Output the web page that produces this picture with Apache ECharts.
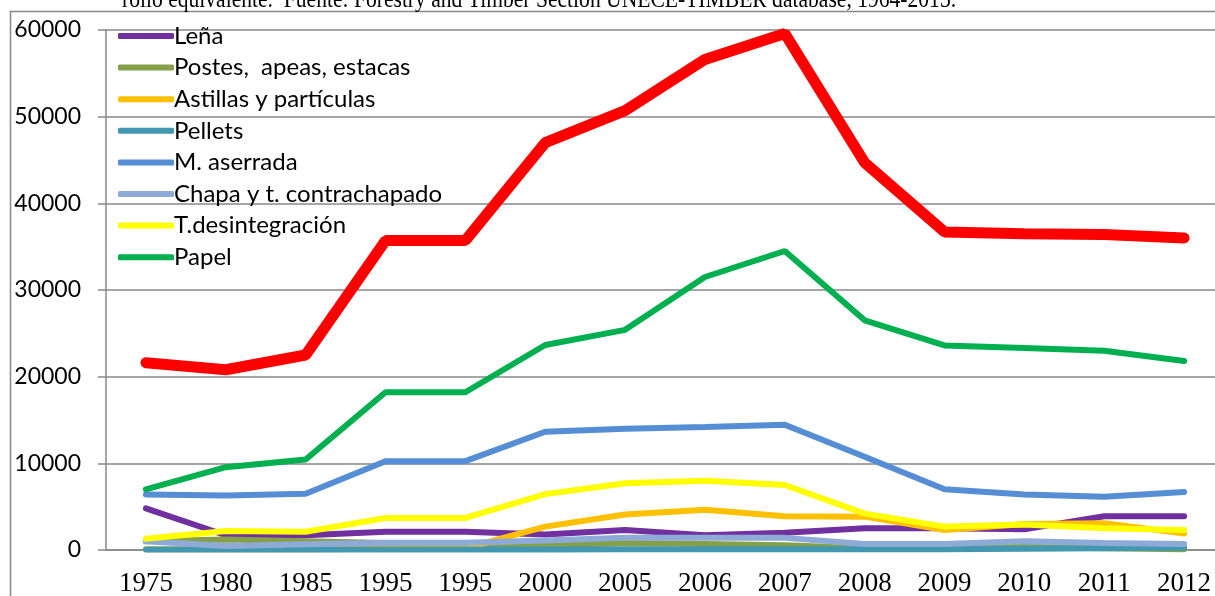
<!DOCTYPE html>
<html>
<head>
<meta charset="utf-8">
<script src="https://cdn.jsdelivr.net/npm/echarts@6/dist/echarts.min.js"></script>
<style>
  html, body { margin: 0; padding: 0; background: #fff; }
  #main { width: 1215px; height: 596px; }
</style>
</head>
<body>
<div id="main"></div>
<script>
// categorías (el eje repite 1995 como en el original)
const years = ['1975', '1980', '1985', '1995', '1995', '2000', '2005', '2006', '2007', '2008', '2009', '2010', '2011', '2012']
const yTicks = [0, 10000, 20000, 30000, 40000, 50000, 60000]

// valores
const lena = [4800, 1700, 1700, 2100, 2100, 1800, 2300, 1700, 2000, 2500, 2500, 2400, 3900, 3900]
const postes = [1000, 1200, 1000, 800, 700, 500, 800, 700, 550, 200, 200, 350, 200, 100]
const astillas = [100, 100, 100, 150, 200, 2700, 4100, 4650, 3900, 3850, 2300, 3000, 3100, 1900]
const pellets = [50, 50, 50, 50, 50, 50, 100, 100, 100, 100, 100, 150, 200, 250]
const aserrada = [6400, 6300, 6500, 10250, 10250, 13650, 14000, 14200, 14450, 10750, 7000, 6400, 6150, 6700]
const chapa = [1000, 450, 650, 850, 850, 1100, 1400, 1400, 1400, 700, 700, 1000, 800, 700]
const desint = [1300, 2200, 2100, 3700, 3700, 6450, 7700, 8000, 7500, 4200, 2700, 2950, 2500, 2300]
const papel = [7000, 9550, 10450, 18200, 18200, 23650, 25400, 31500, 34500, 26500, 23600, 23300, 23000, 21800]
const total = [21600, 20800, 22500, 35700, 35700, 47000, 50700, 56600, 59600, 44700, 36700, 36500, 36400, 36000]

const names = ['Leña', 'Postes,  apeas, estacas', 'Astillas y partículas', 'Pellets', 'M. aserrada', 'Chapa y t. contrachapado', 'T.desintegración', 'Papel']
const colors = ['#7030a0', '#86a04a', '#ffc000', '#4298b0', '#558ed5', '#8eaad6', '#ffff00', '#00b050']
const values = [lena, postes, astillas, pellets, aserrada, chapa, desint, papel]

const chart = echarts.init(document.getElementById('main'))

const series = values.map((d, i) => ({
  name: names[i],
  type: 'line',
  data: d,
  showSymbol: false,
  symbol: 'none',
  color: colors[i],
  lineStyle: { width: 6, color: colors[i], cap: 'round' },
  animation: false
}))
series.push({
  name: 'Total',
  type: 'line',
  data: total,
  symbol: 'none',
  color: '#ff0000',
  lineStyle: { width: 11, color: '#ff0000', cap: 'round' },
  animation: false
})

const option = {
  animation: false,
  grid: { left: 106, top: 30, bottom: 46, right: -9, outerBoundsMode: 'none' },
  legend: {
    data: names.map(n => ({ name: n, icon: 'roundRect' })),
    orient: 'vertical',
    left: 113,
    top: 19,
    itemWidth: 56,
    itemHeight: 6,
    itemGap: 7.6,
    textStyle: { fontFamily: 'Lato', fontSize: 24, lineHeight: 24, color: '#000', padding: [0, 0, 0, -5] }
  },
  xAxis: {
    type: 'category',
    data: years,
    boundaryGap: true,
    axisLine: { lineStyle: { color: '#888', width: 1.5 } },
    axisTick: { length: 8, lineStyle: { color: '#888', width: 1.5 } },
    axisLabel: { interval: 0, margin: 20, color: '#000', fontFamily: 'Liberation Serif', fontSize: 27 }
  },
  yAxis: {
    type: 'value',
    min: yTicks[0],
    max: yTicks[yTicks.length - 1],
    interval: 10000,
    axisLine: { show: true, lineStyle: { color: '#888', width: 1.5 } },
    axisTick: { show: true, length: 8, lineStyle: { color: '#888', width: 1.5 } },
    splitLine: { lineStyle: { color: '#888', width: 1.5 } },
    axisLabel: { margin: 25, color: '#000', fontFamily: 'Lato', fontSize: 23, formatter: v => String(v) }
  },
  graphic: [
    {
      type: 'rect',
      shape: { x: 10.5, y: 11.5, width: 1400, height: 800 },
      style: { fill: 'none', stroke: '#888', lineWidth: 1.5 },
      silent: true
    },
    {
      type: 'text',
      x: 122,
      y: 13,
      scaleX: 0.83,
      style: {
        text: 'rollo equivalente.  Fuente: Forestry and Timber Section UNECE-TIMBER database, 1964-2013.',
        font: '26px "Liberation Serif"',
        fill: '#000',
        textVerticalAlign: 'bottom'
      }
    }
  ],
  series: series
}

chart.setOption(option)
</script>
</body>
</html>
